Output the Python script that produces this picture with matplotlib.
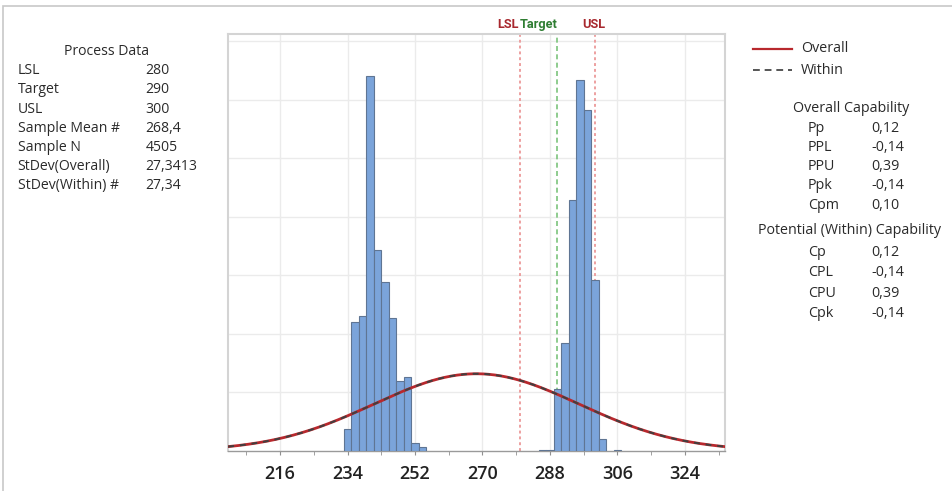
import numpy as np
import matplotlib
matplotlib.use('Agg')
import matplotlib.pyplot as plt
from matplotlib.patches import Rectangle
from matplotlib.lines import Line2D

plt.rcParams['font.family'] = ['Open Sans', 'DejaVu Sans']

# spec limits and process stats
lsl, target, usl = 280, 290, 300
mean, sd_overall, sd_within, n = 268.4, 27.3413, 27.34, 4505

# histogram (bin width 2)
bin_width = 2
bin_starts = [233, 235, 237, 239, 241, 243, 245, 247, 249, 251, 253,
              285, 287, 289, 291, 293, 295, 297, 299, 301, 305]
counts = [37, 220, 231, 641, 343, 288, 227, 119, 126, 14, 7,
          1, 1, 106, 184, 429, 634, 582, 292, 20, 2]

x_ticks = [216, 234, 252, 270, 288, 306, 324]

process_labels = ['LSL', 'Target', 'USL', 'Sample Mean #', 'Sample N',
                  'StDev(Overall)', 'StDev(Within) #']
process_values = ['280', '290', '300', '268,4', '4505', '27,3413', '27,34']
overall_labels = ['Pp', 'PPL', 'PPU', 'Ppk', 'Cpm']
overall_values = ['0,12', '-0,14', '0,39', '-0,14', '0,10']
within_labels = ['Cp', 'CPL', 'CPU', 'Cpk']
within_values = ['0,12', '-0,14', '0,39', '-0,14']

W, H = 952, 491
fig = plt.figure(figsize=(W / 100, H / 100), dpi=100)


def px(x, y):
    return x / W, 1 - y / H


# outer frame of the screenshot
fig.patches.append(Rectangle(px(3, 495), 1.0, 489 / H, transform=fig.transFigure,
                             fill=False, edgecolor='#c8c8c8', lw=1.2))

ax = fig.add_axes([228.3 / W, 1 - 450.7 / H, (725 - 228.3) / W, (450.7 - 34) / H])
xmin, xmax = 202.2, 334.7
ax.set_xlim(xmin, xmax)
ax.set_ylim(0, 712)

ax.bar(bin_starts, counts, width=bin_width, align='edge', color='#7ba4da',
       edgecolor='#5f7593', linewidth=0.8, zorder=3)

xs = np.linspace(xmin, xmax, 400)
scale = n * bin_width
y_over = scale * np.exp(-0.5 * ((xs - mean) / sd_overall) ** 2) / (sd_overall * np.sqrt(2 * np.pi))
y_with = scale * np.exp(-0.5 * ((xs - mean) / sd_within) ** 2) / (sd_within * np.sqrt(2 * np.pi))
ax.plot(xs, y_over, color='#b8282d', lw=2.0, zorder=4)
ax.plot(xs, y_with, color='#404040', lw=1.4, ls=(0, (3, 3)), zorder=5)

ax.axvline(lsl, color='#eda0a0', lw=1.4, ls=(0, (1.5, 1.5)), zorder=2)
ax.axvline(usl, color='#eda0a0', lw=1.4, ls=(0, (1.5, 1.5)), zorder=2)
ax.axvline(target, color='#7cc47c', lw=1.2, ls=(0, (3, 2)), zorder=2)

# spec labels above the plot
lab_kw = dict(transform=ax.get_xaxis_transform(), va='center', fontsize=9.2,
              fontweight='bold', clip_on=False, family=['Roboto', 'DejaVu Sans'])
ax.text(279.6, 1 + 10 / 417, 'LSL', ha='right', color='#a8282e', **lab_kw)
ax.text(290.1, 1 + 10 / 417, 'Target', ha='right', color='#2e7d32', **lab_kw)
ax.text(299.8, 1 + 10 / 417, 'USL', ha='center', color='#a8282e', **lab_kw)

ax.set_xticks(x_ticks)
ax.set_xticks([207, 225, 243, 261, 279, 297, 315, 333], minor=True)
ax.set_xticklabels([str(t) for t in x_ticks], fontsize=13, fontweight='semibold', color='#222222')
ax.tick_params(axis='x', which='both', length=3, color='#909090', pad=7)
ax.set_yticks([100, 200, 300, 400, 500, 600, 700])
ax.tick_params(axis='y', length=0, labelleft=False)
ax.grid(True, color='#ebebeb', lw=1.0, zorder=0)
ax.set_axisbelow(True)
for side in ['top', 'left', 'right']:
    ax.spines[side].set_color('#d4d4d4')
    ax.spines[side].set_linewidth(1.5)
ax.spines['bottom'].set_color('#9a9a9a')
ax.spines['bottom'].set_linewidth(1.0)

# process data block
tc = '#2a2a2a'
fs_l = 10.1
fig.text(*px(107, 51.7), 'Process Data', ha='center', va='center', fontsize=fs_l, color=tc)
for i, (lab, val) in enumerate(zip(process_labels, process_values)):
    y = 70.7 + i * 19.2
    fig.text(*px(17.5, y), lab, ha='left', va='center', fontsize=fs_l, color=tc)
    fig.text(*px(145.5, y), val, ha='left', va='center', fontsize=fs_l, color=tc)

# legend
fs_r = 10.3
fig.lines.append(Line2D([752.7 / W, 791.7 / W], [1 - 49 / H] * 2, transform=fig.transFigure,
                        color='#b8282d', lw=1.6))
fig.lines.append(Line2D([752.7 / W, 791.7 / W], [1 - 70 / H] * 2, transform=fig.transFigure,
                        color='#555555', lw=1.4, ls=(0, (3.5, 2.5))))
fig.text(*px(801, 49), 'Overall', ha='left', va='center', fontsize=fs_r, color=tc)
fig.text(*px(801, 70), 'Within', ha='left', va='center', fontsize=fs_r, color=tc)

# capability blocks
fig.text(*px(851, 109), 'Overall Capability', ha='center', va='center', fontsize=fs_r, color=tc)
for i, (lab, val) in enumerate(zip(overall_labels, overall_values)):
    y = 128.3 + i * 19.2
    fig.text(*px(808, y), lab, ha='left', va='center', fontsize=fs_r, color=tc)
    fig.text(*px(871.5, y), val, ha='left', va='center', fontsize=fs_r, color=tc)

fig.text(*px(849, 230), 'Potential (Within) Capability', ha='center', va='center',
         fontsize=fs_r, color=tc)
for i, (lab, val) in enumerate(zip(within_labels, within_values)):
    y = 252.5 + i * 20.3
    fig.text(*px(808, y), lab, ha='left', va='center', fontsize=fs_r, color=tc)
    fig.text(*px(871.5, y), val, ha='left', va='center', fontsize=fs_r, color=tc)

fig.savefig('out.png', dpi=100)
